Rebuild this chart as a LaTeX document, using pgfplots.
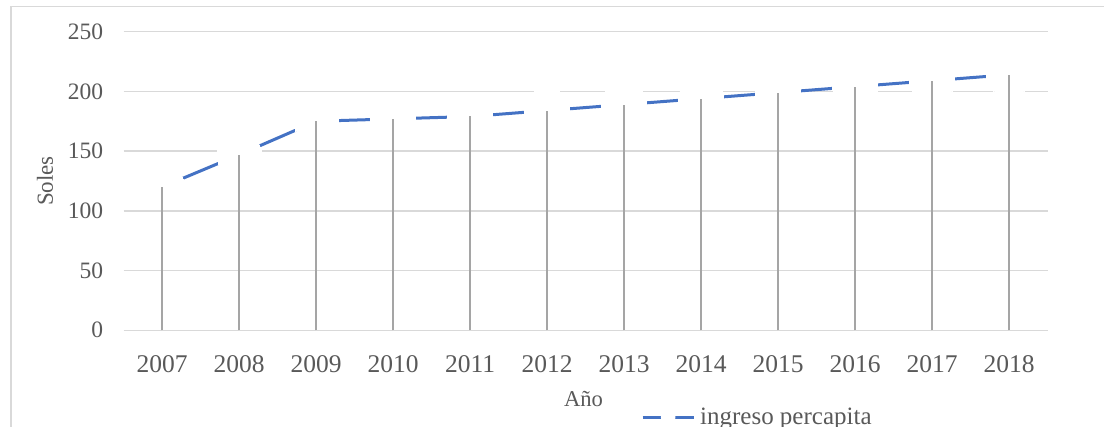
\documentclass[border=0pt]{standalone}
\usepackage{fontspec}
\setmainfont{Liberation Serif}
\usepackage{pgfplots}
\usepackage{pgfplotstable}
\pgfplotsset{compat=1.18}

\definecolor{serie}{HTML}{4472C4}
\definecolor{caida}{HTML}{A5A5A5}
\definecolor{rejilla}{HTML}{D9D9D9}
\definecolor{texto}{HTML}{595959}

% ingreso per capita (soles), 2007 = 0
\pgfplotstableread{
x v
0 120
1 147
2 175
3 177
4 179
5 184
6 189
7 194
8 199
9 204
10 209
11 214
}\ingreso

\begin{document}
\begin{tikzpicture}
\path[use as bounding box] (-123.7pt,-96.7pt) rectangle (980.3pt,330.3pt);
\draw[rejilla, line width=1.3pt] (-112.7pt,-100pt) -- (-112.7pt,323.6pt) -- (990pt,323.6pt);
\begin{axis}[
  at={(0pt,0pt)}, anchor=south west,
  scale only axis,
  width=924pt, height=298.6pt,
  clip mode=individual,
  xmin=-0.5, xmax=11.5, ymin=0, ymax=250,
  xtick={0,...,11},
  xticklabels={2007,2008,2009,2010,2011,2012,2013,2014,2015,2016,2017,2018},
  ytick={0,50,...,250},
  ymajorgrids,
  grid style={rejilla, line width=1.3pt},
  axis line style={draw=none},
  major tick length=0pt,
  /pgf/number format/assume math mode=true,
  tick label style={text=texto, inner sep=0pt},
  xticklabel style={font=\fontsize{25.5}{30}\selectfont, anchor=base, yshift=-42pt},
  yticklabel style={font=\fontsize{23.5}{28}\selectfont, anchor=east, xshift=-20.4pt},
  xlabel={Año}, ylabel={Soles},
  every axis x label/.style={at={(rel axis cs:0.4976,0)}, anchor=base, yshift=-76.7pt,
    font=\fontsize{22.6}{27}\selectfont, text=texto},
  every axis y label/.style={at={([xshift=-78.7pt]rel axis cs:0,0.5)}, rotate=90, anchor=center,
    font=\fontsize{23}{27}\selectfont, text=texto},
  legend image code/.code={
    \draw[serie, line width=3pt] (0pt,0pt) -- (51pt,0pt);
    \fill[white] (25.5pt,0pt) circle (5.8pt);
  },
  legend style={draw=none, fill=none, inner sep=0pt, nodes={inner sep=0pt},
    font=\fontsize{25}{30}\selectfont, text=texto,
    at={(rel axis cs:0.5598,0)}, anchor=west, yshift=-87pt,
    /tikz/every odd column/.style={column sep=5pt}},
]
\addplot[serie, line width=3pt, mark=*, mark size=22.5pt,
  mark options={draw=white, line width=0pt, fill=white}] table[x=x, y=v] {\ingreso};
\addlegendentry{ingreso percapita}
\addplot[ycomb, caida, line width=1.8pt, forget plot] table[x=x, y=v] {\ingreso};
\end{axis}
\end{tikzpicture}
\end{document}
